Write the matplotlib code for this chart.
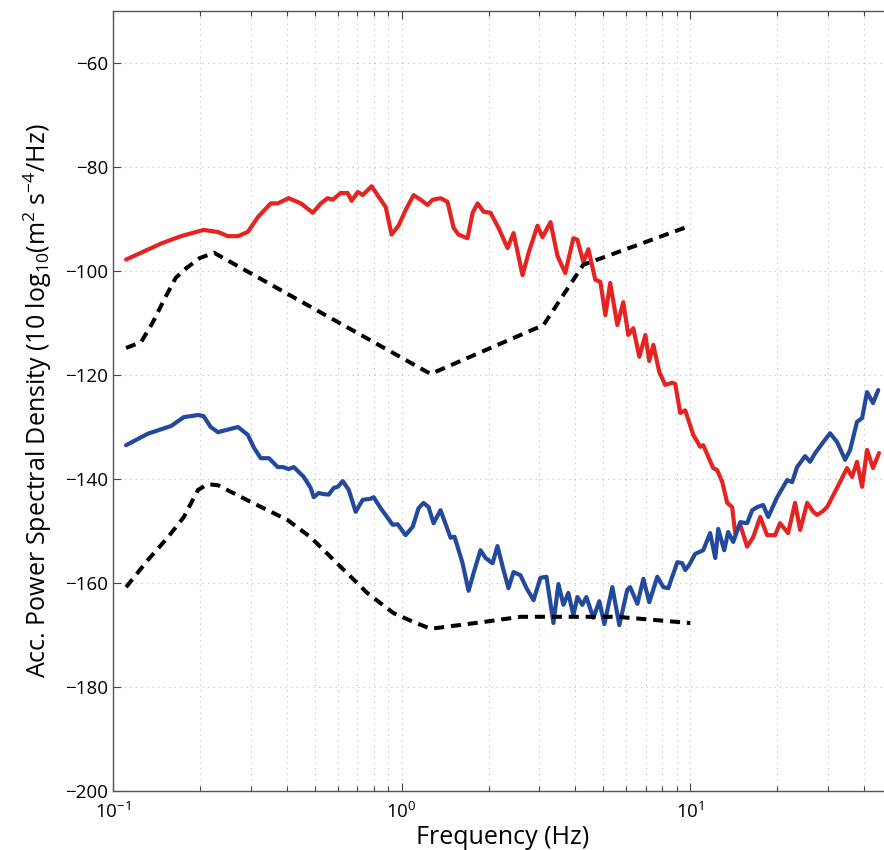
import matplotlib
matplotlib.use("Agg")
import matplotlib.pyplot as plt
from matplotlib.ticker import LogLocator

plt.rcParams['font.family'] = ['Open Sans', 'DejaVu Sans']
plt.rcParams['mathtext.fontset'] = 'custom'
plt.rcParams['mathtext.rm'] = 'Open Sans'
plt.rcParams['mathtext.it'] = 'Open Sans:italic'

# ---- data ----
red_f = [0.111, 0.147, 0.172, 0.206, 0.231, 0.250, 0.271, 0.293, 0.318, 0.352, 0.372, 0.406,
         0.448, 0.492, 0.525, 0.554, 0.577, 0.615, 0.650, 0.671, 0.705, 0.733, 0.787, 0.846,
         0.881, 0.923, 0.977, 1.032, 1.100, 1.164, 1.230, 1.280, 1.364, 1.442, 1.514, 1.574,
         1.692, 1.762, 1.833, 1.922, 2.032, 2.166, 2.328, 2.442, 2.624, 2.750, 2.955, 3.076,
         3.279, 3.467, 3.690, 3.936, 4.064, 4.262, 4.436, 4.690, 4.883, 5.08, 5.28, 5.59,
         5.86, 6.10, 6.35, 6.66, 6.99, 7.21, 7.45, 7.81, 8.19, 8.66, 8.87, 9.23, 9.61, 10.24,
         10.83, 11.09, 12.01, 12.40, 12.91, 13.43, 13.97, 14.31, 14.90, 15.74, 16.52, 17.47,
         18.46, 19.68, 20.47, 21.83, 23.07, 24.03, 25.41, 26.66, 27.50, 28.64, 29.79, 32.27,
         34.92, 36.36, 37.82, 39.38, 40.97, 42.98, 45.08]
red_db = [-97.8, -94.7, -93.3, -92.1, -92.5, -93.3, -93.3, -92.5, -89.6, -87.0, -87.0, -86.0,
          -87.0, -88.8, -87.0, -86.0, -86.3, -85.0, -85.0, -86.5, -84.8, -85.4, -83.7, -86.3,
          -87.7, -93.0, -91.2, -88.3, -85.4, -86.3, -87.3, -86.3, -86.0, -86.7, -91.7, -93.0,
          -93.7, -88.8, -87.0, -88.6, -88.8, -91.7, -95.6, -92.7, -100.8, -96.6, -91.3, -93.5,
          -90.6, -97.1, -100.4, -93.7, -94.0, -98.3, -95.8, -101.7, -102.1, -108.5, -102.3, -110.4,
          -106.0, -112.3, -111.0, -116.5, -112.3, -117.3, -114.2, -119.4, -121.9, -121.5, -121.7,
          -127.3, -126.8, -131.5, -133.8, -133.5, -137.9, -138.3, -140.6, -144.6, -145.4, -150.4,
          -148.8, -153.0, -151.2, -147.3, -150.8, -150.8, -148.5, -150.4, -144.6, -149.8, -144.6,
          -146.3, -146.9, -146.3, -145.4, -141.7, -137.9, -139.6, -136.7, -141.5, -134.4, -137.9,
          -135.0]

blue_f = [0.111, 0.132, 0.159, 0.176, 0.197, 0.206, 0.218, 0.231, 0.246, 0.271, 0.293, 0.308,
          0.325, 0.347, 0.372, 0.388, 0.406, 0.423, 0.458, 0.484, 0.496, 0.516, 0.537, 0.559,
          0.582, 0.601, 0.625, 0.656, 0.693, 0.733, 0.781, 0.800, 0.846, 0.931, 0.969, 1.032,
          1.092, 1.145, 1.191, 1.240, 1.290, 1.364, 1.478, 1.525, 1.626, 1.706, 1.775, 1.876,
          1.954, 2.066, 2.148, 2.254, 2.345, 2.442, 2.580, 2.709, 2.864, 3.027, 3.175, 3.357,
          3.493, 3.635, 3.781, 3.936, 4.064, 4.227, 4.366, 4.615, 4.842, 5.04, 5.37, 5.68,
          6.05, 6.19, 6.56, 6.88, 7.21, 7.69, 8.07, 8.39, 9.02, 9.38, 9.61, 9.92, 10.40, 11.09,
          11.72, 12.21, 12.50, 13.11, 13.53, 14.09, 14.90, 15.74, 16.39, 17.06, 17.89, 18.62,
          20.0, 21.67, 22.54, 23.45, 25.0, 26.0, 27.1, 28.9, 30.5, 32.27, 34.4, 35.8, 37.82,
          39.38, 40.97, 42.98, 44.8]
blue_db = [-133.5, -131.3, -129.8, -128.1, -127.7, -127.9, -130.0, -131.0, -130.6, -130.0, -131.5,
           -134.0, -136.0, -136.0, -137.7, -137.7, -138.1, -137.7, -139.6, -141.7, -143.5, -142.7,
           -142.9, -143.0, -141.7, -141.5, -140.4, -142.1, -146.3, -144.0, -143.8, -143.5, -145.6,
           -148.8, -148.7, -150.8, -149.2, -145.6, -144.6, -145.4, -148.5, -146.0, -151.3, -151.1,
           -156.2, -161.5, -158.1, -153.7, -155.2, -156.2, -152.9, -157.5, -161.0, -157.9, -158.5,
           -161.0, -163.3, -159.0, -158.8, -167.7, -160.2, -164.2, -161.9, -166.2, -162.7, -164.2,
           -162.7, -166.7, -163.5, -167.9, -160.8, -168.1, -161.3, -160.8, -164.0, -159.2, -163.7,
           -158.8, -160.8, -161.0, -156.0, -156.2, -157.5, -156.5, -154.4, -153.7, -150.4, -155.2,
           -149.6, -153.7, -150.2, -152.1, -148.3, -148.5, -146.0, -145.4, -145.0, -147.3, -143.5,
           -140.2, -140.6, -137.7, -135.6, -136.7, -135.0, -132.9, -131.2, -132.9, -136.3, -134.4,
           -129.0, -128.3, -123.3, -125.4, -122.9]

high_model_f = [0.111, 0.125, 0.137, 0.152, 0.165, 0.180, 0.200, 0.224, 1.26, 3.10, 4.26, 9.77]
high_model_db = [-114.8, -113.7, -110.0, -105.0, -101.3, -99.4, -97.5, -96.5, -119.8, -110.4, -98.8, -91.5]

low_model_f = [0.111, 0.132, 0.155, 0.176, 0.197, 0.213, 0.231, 0.300, 0.403, 0.484, 0.615,
               0.763, 0.938, 1.10, 1.26, 1.92, 2.58, 5.59, 10.0]
low_model_db = [-160.8, -155.6, -151.2, -147.3, -142.1, -141.0, -141.2, -144.4, -147.9, -151.2,
                -156.9, -162.0, -165.8, -167.5, -168.8, -167.5, -166.5, -166.5, -167.7]

yticks = [-200, -180, -160, -140, -120, -100, -80, -60]

# ---- plot ----
fig = plt.figure(figsize=(8.84, 8.5), dpi=100)
ax = fig.add_axes([113/884, 59/850, 779/884, 780/850])

dash = (0, (2.5, 1.7))
ax.plot(red_f, red_db, color='#e52421', lw=3.0, solid_joinstyle='round',
        solid_capstyle='round', zorder=3)
ax.plot(blue_f, blue_db, color='#22499b', lw=3.0, solid_joinstyle='round',
        solid_capstyle='round', zorder=3)
ax.plot(high_model_f, high_model_db, color='black', lw=2.9, linestyle=dash, zorder=4)
ax.plot(low_model_f, low_model_db, color='black', lw=2.9, linestyle=dash, zorder=4)

ax.set_xscale('log')
ax.set_xlim(0.1, 50)
ax.set_ylim(-200, -50)
ax.set_yticks(yticks)
ax.set_yticklabels(['\u2212' + str(abs(v)) for v in yticks])
ax.xaxis.set_major_locator(LogLocator(base=10, numticks=10))
ax.xaxis.set_minor_locator(LogLocator(base=10, subs=range(2, 10), numticks=20))

ax.grid(True, which='major', axis='both', linestyle=(0, (1, 4)), color='#bbbbbb', lw=0.8)
ax.grid(True, which='minor', axis='x', linestyle=(0, (1, 4)), color='#bbbbbb', lw=0.8)

ax.tick_params(which='both', direction='in', top=True, right=False, colors='#444444',
               labelcolor='black', labelsize=13.5)
ax.tick_params(which='major', length=6, width=0.8)
ax.tick_params(which='minor', length=3.5, width=0.8)
ax.tick_params(axis='x', which='major', pad=8)
for s in ax.spines.values():
    s.set_color('#555555')
    s.set_linewidth(1.0)

ax.set_xlabel('Frequency (Hz)', fontsize=18, labelpad=2)
ax.set_ylabel('Acc. Power Spectral Density (10 log$_{10}$(m$^2$ s$^{-4}$/Hz)', fontsize=18, labelpad=8)

fig.savefig('out.png', dpi=100)
